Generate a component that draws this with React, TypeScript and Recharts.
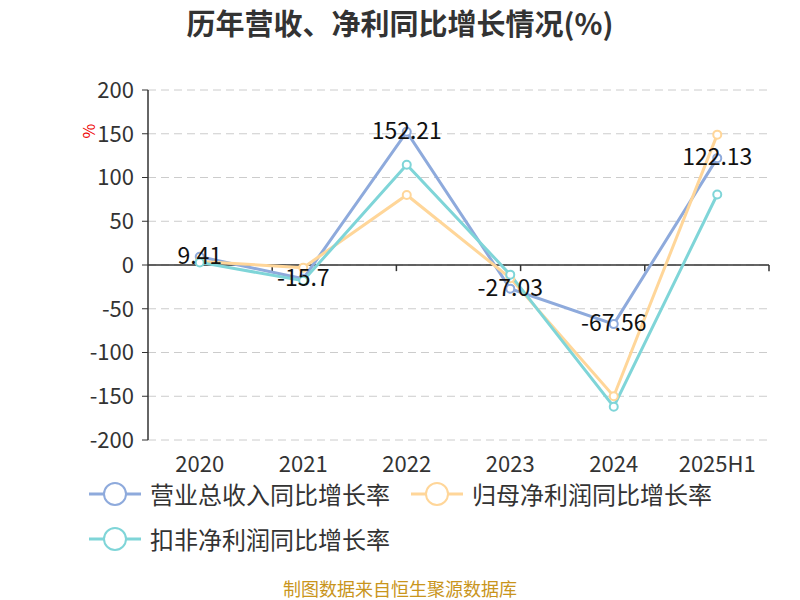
import {
  CartesianGrid,
  Line,
  LineChart,
  ReferenceLine,
  XAxis,
  YAxis,
} from "recharts";

const years = ["2020", "2021", "2022", "2023", "2024", "2025H1"];
const revenueGrowth = [9.41, -15.7, 152.21, -27.03, -67.56, 122.13];
const netProfitGrowth = [4, -3, 80, -15, -150, 149];
const deductedProfitGrowth = [3, -18, 114.5, -11, -162, 80.6];
const yTicks = [-200, -150, -100, -50, 0, 50, 100, 150, 200];
const bandEdges = [1, 2, 3, 4, 5, 6];

const FONT = '"Noto Sans CJK SC", "Noto Sans", sans-serif';

const series = [
  { key: "rev", name: "营业总收入同比增长率", color: "#8eaadc" },
  { key: "net", name: "归母净利润同比增长率", color: "#ffd699" },
  { key: "ded", name: "扣非净利润同比增长率", color: "#7fd5d8" },
];

const rows = years.map((y, i) => ({
  year: y,
  rev: revenueGrowth[i],
  net: netProfitGrowth[i],
  ded: deductedProfitGrowth[i],
}));

function ValueLabel(props: any) {
  const { x, y, value } = props;
  return (
    <text
      x={x}
      y={y - 3}
      textAnchor="middle"
      dominantBaseline="central"
      fontSize={23}
      fill="#111"
      fontFamily={FONT}
    >
      {value}
    </text>
  );
}

function LegendBlock() {
  const item = (s: (typeof series)[number], left: number, top: number) => (
    <div
      key={s.key}
      style={{ position: "absolute", left, top, display: "flex", alignItems: "center" }}
    >
      <svg width={52} height={28}>
        <line x1={0} y1={14} x2={52} y2={14} stroke={s.color} strokeWidth={3} />
        <circle cx={26} cy={14} r={11} fill="#fff" stroke={s.color} strokeWidth={2} />
      </svg>
      <span style={{ marginLeft: 9, fontSize: 24, color: "#333", fontFamily: FONT, lineHeight: "28px" }}>
        {s.name}
      </span>
    </div>
  );
  return (
    <div style={{ position: "absolute", left: 0, top: 480, width: 800, height: 80 }}>
      {item(series[0], 89, 0)}
      {item(series[1], 411, 0)}
      {item(series[2], 89, 45)}
    </div>
  );
}

export default function App() {
  return (
    <div style={{ position: "absolute", left: 0, top: 0, width: 800, height: 600, background: "#fff" }}>
      <div
        style={{
          position: "absolute",
          top: 2,
          width: 800,
          textAlign: "center",
          fontSize: 29,
          fontWeight: "bold",
          color: "#333",
          fontFamily: FONT,
          lineHeight: "40px",
        }}
      >
        历年营收、净利同比增长情况(%)
      </div>
      <LineChart
        width={800}
        height={600}
        data={rows}
        margin={{ top: 90, right: 31, bottom: 130, left: 0 }}
      >
        <CartesianGrid vertical={false} stroke="#ccc" strokeDasharray="8 5" />
        <XAxis
          xAxisId="cat"
          dataKey="year"
          scale="band"
          axisLine={false}
          tickLine={false}
          tickMargin={10}
          tick={{ fontSize: 22, fill: "#333", fontFamily: FONT }}
        />
        <XAxis xAxisId="num" type="number" domain={[0, 6]} hide />
        <YAxis
          width={148}
          domain={[-200, 200]}
          ticks={yTicks}
          interval={0}
          axisLine={{ stroke: "#333", strokeWidth: 1.5 }}
          tickLine={{ stroke: "#333" }}
          tickSize={6}
          tickMargin={8}
          tick={{ fontSize: 22, fill: "#333", fontFamily: FONT }}
          label={() => (
            <text
              x={88}
              y={131}
              transform="rotate(-90 88 131)"
              textAnchor="middle"
              dominantBaseline="central"
              fontSize={16}
              fill="#e00"
              fontFamily={FONT}
            >
              %
            </text>
          )}
        />
        <ReferenceLine xAxisId="num" y={0} stroke="#333" strokeWidth={1.5} />
        {bandEdges.map((e) => (
          <ReferenceLine
            key={e}
            xAxisId="num"
            segment={[
              { x: e, y: 0 },
              { x: e, y: -7 },
            ]}
            stroke="#333"
            strokeWidth={1.5}
          />
        ))}
        {series.map((s) => (
          <Line
            key={s.key}
            xAxisId="cat"
            dataKey={s.key}
            name={s.name}
            stroke={s.color}
            strokeWidth={3}
            dot={{ r: 4, fill: "#fff", stroke: s.color, strokeWidth: 2 }}
            isAnimationActive={false}
            label={s.key === "rev" ? <ValueLabel /> : undefined}
          />
        ))}
      </LineChart>
      <LegendBlock />
      <div
        style={{
          position: "absolute",
          top: 576,
          width: 800,
          textAlign: "center",
          fontSize: 18,
          color: "#c9951c",
          fontFamily: FONT,
          lineHeight: "24px",
        }}
      >
        制图数据来自恒生聚源数据库
      </div>
    </div>
  );
}
